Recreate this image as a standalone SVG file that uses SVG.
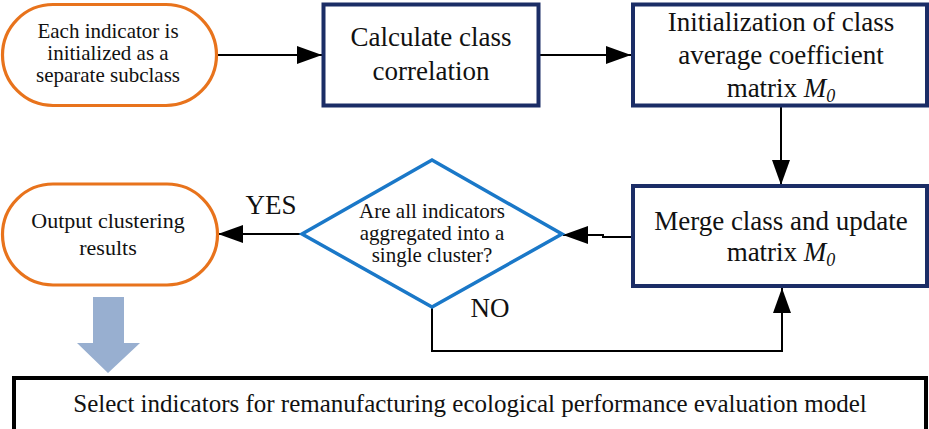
<svg xmlns="http://www.w3.org/2000/svg" width="929" height="429" viewBox="0 0 929 429">
  <defs>
    <style>
      text { font-family: 'Liberation Serif', 'DejaVu Serif', serif; fill: #111; text-anchor: middle; }
      .f27 { font-size: 27px; }
      .f21 { font-size: 21px; }
      .f22 { font-size: 22px; }
      .f25 { font-size: 25px; }
      .oval { fill: #fff; stroke: #E8731C; stroke-width: 3.2; }
      .box { fill: #fff; stroke: #1B2D66; stroke-width: 4; }
      .dec { fill: #fff; stroke: #1A78C8; stroke-width: 3.5; }
      .conn { fill: none; stroke: #000; stroke-width: 2; }
      .it { font-style: italic; }
    </style>
    <marker id="arrow" markerUnits="userSpaceOnUse" markerWidth="26" markerHeight="20" refX="25" refY="9" orient="auto">
      <path d="M0,0 L25,9 L0,18 z" fill="#000"/>
    </marker>
  </defs>

  <rect width="929" height="429" fill="#fff"/>

  <!-- connectors -->
  <g id="connectors">
    <line class="conn" x1="218" y1="55" x2="322" y2="55" marker-end="url(#arrow)"/>
    <line class="conn" x1="540" y1="55" x2="631" y2="55" marker-end="url(#arrow)"/>
    <line class="conn" x1="781" y1="106" x2="781" y2="185" marker-end="url(#arrow)"/>
    <polyline class="conn" points="631,237 603,237 603,235 563,235" marker-end="url(#arrow)"/>
    <line class="conn" x1="302" y1="234" x2="218" y2="234" marker-end="url(#arrow)"/>
    <polyline class="conn" points="432,307 432,351 782,351 782,288" marker-end="url(#arrow)"/>
    <text class="f27" x="271" y="214">YES</text>
    <text class="f27" x="490" y="317">NO</text>
    <polygon points="93,297 124,297 124,343 140,343 108,373 77,343 93,343" fill="#98AFD0"/>
  </g>

  <!-- start -->
  <g id="start">
    <rect class="oval" x="2.5" y="4.5" width="214" height="101" rx="50.5" ry="50.5"/>
    <text class="f21" x="108" y="38">Each indicator is</text>
    <text class="f21" x="108" y="60">initialized as a</text>
    <text class="f21" x="108" y="82">separate subclass</text>
  </g>

  <!-- class correlation -->
  <g id="correlation">
    <rect class="box" x="323.5" y="4.5" width="215" height="101"/>
    <text class="f27" x="431" y="46">Calculate class</text>
    <text class="f27" x="431" y="80">correlation</text>
  </g>

  <!-- matrix initialisation -->
  <g id="init-matrix">
    <rect class="box" x="633" y="4.5" width="294" height="101"/>
    <text class="f27" x="781" y="31">Initialization of class</text>
    <text class="f27" x="781" y="64">average coefficient</text>
    <text class="f27" x="781" y="97">matrix <tspan class="it">M</tspan><tspan class="it" font-size="18" dy="5">0</tspan></text>
  </g>

  <!-- merge step -->
  <g id="merge">
    <rect class="box" x="633" y="186" width="294" height="100"/>
    <text class="f27" x="781" y="230">Merge class and update</text>
    <text class="f27" x="781" y="261">matrix  <tspan class="it">M</tspan><tspan class="it" font-size="18" dy="5">0</tspan></text>
  </g>

  <!-- decision -->
  <g id="decision">
    <polygon class="dec" points="432,160 562,234 432,307 302,234"/>
    <text class="f21" x="432" y="218">Are all indicators</text>
    <text class="f21" x="432" y="240">aggregated into a</text>
    <text class="f21" x="432" y="262">single cluster?</text>
  </g>

  <!-- output -->
  <g id="output">
    <rect class="oval" x="2.5" y="184" width="215" height="101" rx="50.5" ry="50.5"/>
    <text class="f22" x="108" y="228">Output clustering</text>
    <text class="f22" x="108" y="255">results</text>
  </g>

  <!-- final selection -->
  <g id="select">
    <rect x="14" y="378" width="912" height="56" fill="#fff" stroke="#000" stroke-width="4"/>
    <text class="f25" x="470" y="412">Select indicators for remanufacturing ecological performance evaluation model</text>
  </g>
</svg>
